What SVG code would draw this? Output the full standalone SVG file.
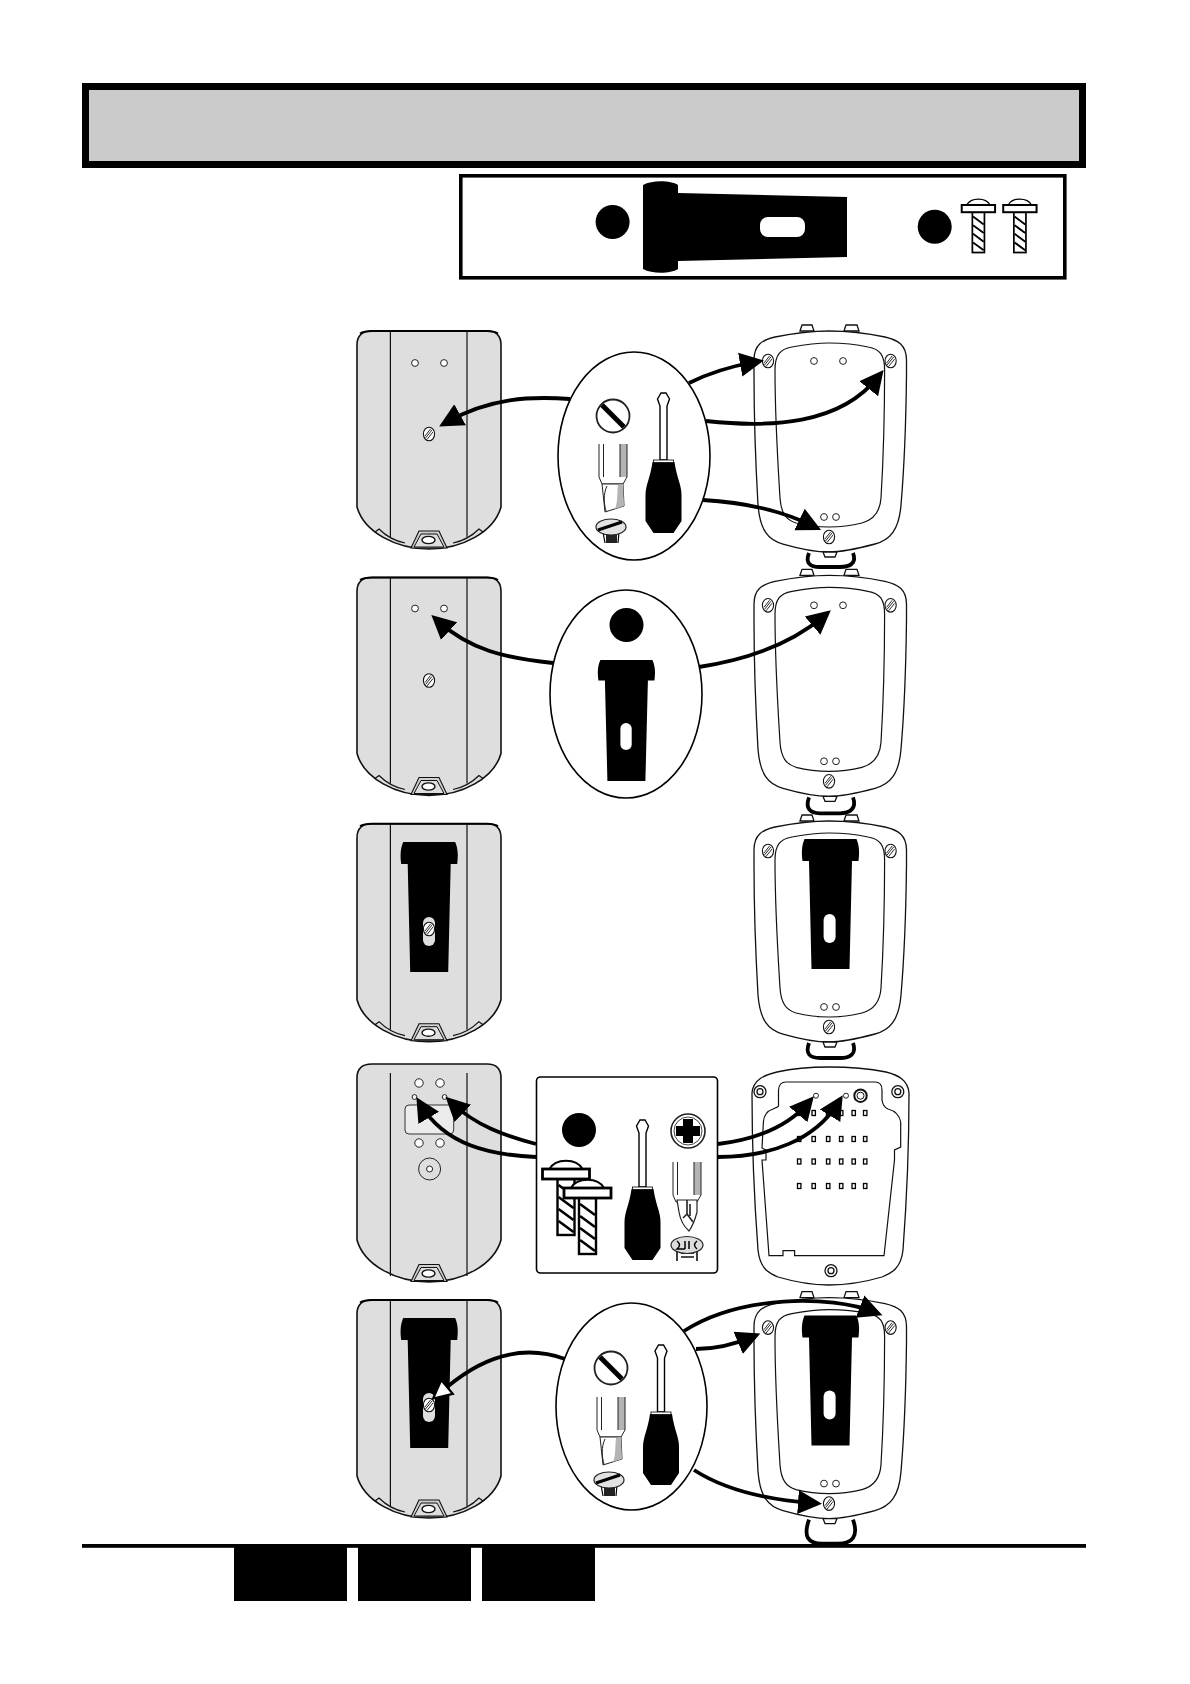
<svg xmlns="http://www.w3.org/2000/svg" xmlns:xlink="http://www.w3.org/1999/xlink" width="1190" height="1684" viewBox="0 0 1190 1684">
<style>
.body{fill:#dedede;stroke:#111;stroke-width:1.6}
.ln{fill:none;stroke:#111;stroke-width:1.2}
.wl{fill:#fff;stroke:#111;stroke-width:1.3}
.hole{fill:#fff;stroke:#222;stroke-width:1}
.bg{fill:#cfcfcf;stroke:#111;stroke-width:1.1}
.k{fill:#000}
.cn{fill:none;stroke:#000;stroke-width:3.8;stroke-linecap:butt}
.lens{fill:#fff;stroke:#000;stroke-width:1.6}
.gr{fill:#b4b4b4}
.loop{fill:none;stroke:#000;stroke-width:3.8}
</style>
<defs>
<marker id="ah" markerUnits="userSpaceOnUse" markerWidth="28" markerHeight="28" viewBox="0 0 28 28" refX="15" refY="14" orient="auto"><path d="M0,2 L24,14 L0,26 Z" fill="#000"/></marker>
<marker id="ahw" markerUnits="userSpaceOnUse" markerWidth="26" markerHeight="26" viewBox="0 0 26 26" refX="5" refY="13" orient="auto"><path d="M5,4 L23,13 L5,22 Z" fill="#fff" stroke="#000" stroke-width="2.2"/></marker>
<g id="screw"><ellipse rx="5.6" ry="6.8" fill="#fff" stroke="#111" stroke-width="1.1"/><path d="M-4,2 L1.5,-5 M-3.5,4 L3,-4 M-2,5.5 L4,-2" stroke="#111" stroke-width="0.9" fill="none"/></g>
<g id="panelL">
<path class="body" d="M357,345 C357,335 363,331 372,331 L487,331 C496,331 501,335 501,345 L501,507 C494,532 462,549 429,549 C396,549 364,532 357,507 Z"/>
<path d="M360,333.5 Q364,331 372,331 L487,331 Q494,331 498,333.5" fill="none" stroke="#000" stroke-width="2"/>
<path class="ln" d="M390.4,331 L390.4,537 M467,331 L467,537"/>
<path class="ln" d="M375,532 L379,529 Q390,540 405,543 M453,543 Q468,540 479,529 L483,532" stroke-width="1"/>
</g>
<g id="latch">
<path class="bg" d="M411,548 L419,531 L439,531 L447,548 Z"/>
<path d="M414,547 L421,534 L437,534 L444,547 Z" fill="#dedede" stroke="#111" stroke-width="1"/>
<ellipse cx="428.5" cy="540" rx="6.5" ry="3.6" fill="#fff" stroke="#111" stroke-width="1.4"/>
</g>
<g id="panelR">
<path class="wl" d="M800,331 L802,325 L812,325 L814,331 Z M844,331 L846,325 L857,325 L859,331 Z"/>
<path class="wl" d="M754,360 C754,345 762,340 775,337 C795,333 812,331 829,331 C846,331 866,333 885,337 C898,340 906.5,345 906.5,360 L906.5,375 C906,420 904,470 901,505 C899,530 890,540 875,544 C860,548 845,552 829,552 C813,552 797,548 783,544 C768,540 760,530 758,505 C756,470 754,420 754,375 Z"/>
<path class="ln" d="M775,370 C775,355 780,349 792,347 C808,344 818,343 829,343 C842,343 855,344 868,347 C880,349 884.6,355 884.6,370 C884.6,420 883,465 881,498 C880,513 873,520 862,523 C850,526 840,527 829,527 C818,527 808,526 796,523 C786,520 781,513 780,498 C778,465 775,420 775,370 Z"/>
</g>
<g id="driver">
<path d="M-2.5,0 L2.5,0 L6,6 L3.5,13 L3.5,67 L-3.5,67 L-3.5,13 L-6,6 Z" fill="#fff" stroke="#000" stroke-width="1.4"/>
<path class="k" d="M-11,69 L11,69 C13,84 18,92 18,102 L18,128 L10,140 L-10,140 L-18,128 L-18,102 C-18,92 -13,84 -11,69 Z"/>
<rect x="-10" y="67" width="20" height="2.6" fill="#fff" stroke="#000" stroke-width="0.8"/>
</g>
<g id="hex">
<rect x="21" y="0" width="7" height="33" class="gr"/>
<path d="M0,0 L0,33 M4.5,0 L4.5,33 M21,0 L21,33 M28,0 L28,33" stroke="#222" stroke-width="1" fill="none"/>
<path d="M0,33 L3,40 L24,40 L28,33" fill="#fff" stroke="#222" stroke-width="1"/>
</g>
<g id="bitF">
<use href="#hex"/>
<path d="M3,40 L24,40 L25,62 L6,68 Z" fill="#fff" stroke="#222" stroke-width="1"/>
<path d="M19,41 L24,40 L25,62 L16,65 C19,58 18,48 19,41 Z" class="gr"/>
<path d="M8,42 C4,50 5,60 7,67" fill="none" stroke="#222" stroke-width="1"/>
</g>
<g id="slotHead">
<circle r="16.5" fill="#fff" stroke="#222" stroke-width="1.8"/>
<path d="M-11,-11 L11,11" stroke="#000" stroke-width="5"/>
</g>
<g id="cskF">
<path d="M10,14 L10,24 L21,24 L21,14 Z" fill="#222"/>
<path d="M7,13 L9,24 M23,13 L22,24" stroke="#000" stroke-width="1.2"/>
<ellipse cx="15" cy="8" rx="15" ry="8" fill="#e2e2e2" stroke="#222" stroke-width="1.2"/>
<path d="M2,11 L26,3" stroke="#000" stroke-width="3"/>
</g>
<g id="bracket">
<path class="k" d="M-26,0 L26,0 C29,7 29,14 28,22 L21.5,22 L19,130 L-19,130 L-21.5,22 L-28,22 C-29,14 -29,7 -26,0 Z"/>
</g>
<g id="bigScrew">
<path d="M8,0 C14,-11 35,-11 41,0" fill="#fff" stroke="#000" stroke-width="1.8"/>
<rect x="16" y="10" width="17" height="56" fill="#fff" stroke="#000" stroke-width="2.4"/>
<path d="M17,16 L32,27 M17,28 L32,39 M17,40 L32,51 M17,52 L32,63" stroke="#000" stroke-width="2.6"/>
<rect x="1" y="0" width="47" height="10" fill="#fff" stroke="#000" stroke-width="2.8"/>
</g>
<g id="cell"><rect width="3.4" height="5" fill="#fff" stroke="#000" stroke-width="1.3"/></g>
</defs>

<g id="header"><rect x="85.5" y="86.5" width="997" height="78" fill="#cbcbcb" stroke="#000" stroke-width="7"/></g>

<g id="partsBox">
<rect x="460.8" y="175.8" width="604" height="102" fill="#fff" stroke="#000" stroke-width="3.6"/>
<ellipse cx="612.6" cy="222" rx="17" ry="17" class="k"/>
<path class="k" d="M643,185 C652,180 670,180 678,185 L678,193 L847,197 L847,257 L678,261 L678,269 C670,274 652,274 643,269 Z"/>
<rect x="760" y="217" width="45" height="20" rx="8" fill="#fff"/>
<ellipse cx="934.7" cy="226.7" rx="17" ry="17" class="k"/>
<use href="#bigScrew" transform="translate(961,205) scale(0.71,0.72)"/>
<use href="#bigScrew" transform="translate(1002.5,205) scale(0.71,0.72)"/>
</g>

<g id="row1left"><use href="#panelL"/><use href="#latch"/><use href="#screw" x="429" y="434"/>
<circle class="hole" cx="415" cy="363" r="3.4"/><circle class="hole" cx="444" cy="363" r="3.4"/></g>
<g id="row1right"><use href="#panelR"/><use href="#screw" x="768" y="361"/><use href="#screw" x="890.6" y="361"/><use href="#screw" x="829" y="537"/>
<circle class="hole" cx="814" cy="361" r="3.4"/><circle class="hole" cx="843" cy="361" r="3.4"/><circle class="hole" cx="824" cy="517" r="3.4"/><circle class="hole" cx="836" cy="517" r="3.4"/>
<path class="loop" d="M809,553 C805,563 810,567 820,567 L840,567 C850,567 857,563 853,553"/>
<path class="wl" d="M823,552 L825,557 L835,557 L837,552 Z"/></g>

<g id="row1tools">
<ellipse class="lens" cx="634" cy="456" rx="76" ry="104"/>
<use href="#slotHead" x="613" y="416"/>
<use href="#bitF" x="599" y="444"/>
<use href="#cskF" x="596" y="519"/>
<use href="#driver" x="663.5" y="393"/>
</g>

<g id="row2left" transform="translate(0,246.5)"><use href="#panelL"/><use href="#latch"/><use href="#screw" x="429" y="434"/>
<circle class="hole" cx="415" cy="362" r="3.4"/><circle class="hole" cx="444" cy="362" r="3.4"/></g>
<g id="row2right" transform="translate(0,244.3)"><use href="#panelR"/><use href="#screw" x="768" y="361"/><use href="#screw" x="890.6" y="361"/><use href="#screw" x="829" y="537"/>
<circle class="hole" cx="814" cy="361" r="3.4"/><circle class="hole" cx="843" cy="361" r="3.4"/><circle class="hole" cx="824" cy="517" r="3.4"/><circle class="hole" cx="836" cy="517" r="3.4"/>
<path class="loop" d="M809,553 C805,564 810,569 820,569 L840,569 C850,569 857,564 853,553"/>
<path class="wl" d="M823,552 L825,557 L835,557 L837,552 Z"/></g>
<g id="row2bracket">
<ellipse class="lens" cx="626" cy="694" rx="76" ry="104"/>
<ellipse cx="626.5" cy="625" rx="17" ry="17" class="k"/>
<use href="#bracket" transform="translate(626.4,660) scale(1,0.931)"/>
<rect x="620.4" y="723" width="11.3" height="27" rx="5.6" fill="#fff"/>
</g>

<g id="row3left" transform="translate(0,492.7)"><use href="#panelL"/><use href="#latch"/></g>
<g id="row3leftBracket"><use href="#bracket" x="429.2" y="842"/><rect x="423" y="917" width="12" height="29" rx="6" fill="#dedede"/><use href="#screw" x="429" y="929"/></g>
<g id="row3right" transform="translate(0,490)"><use href="#panelR"/><use href="#screw" x="768" y="361"/><use href="#screw" x="890.6" y="361"/><use href="#screw" x="829" y="537"/>
<circle class="hole" cx="824" cy="517" r="3.4"/><circle class="hole" cx="836" cy="517" r="3.4"/>
<path class="loop" d="M809,553 C805,564 810,568 820,568 L840,568 C850,568 857,564 853,553"/>
<path class="wl" d="M823,552 L825,557 L835,557 L837,552 Z"/></g>
<g id="row3rightBracket"><use href="#bracket" x="830.5" y="839"/><rect x="823.6" y="914" width="12" height="29" rx="6" fill="#fff"/></g>

<g id="row4left">
<path class="body" d="M357,1078 C357,1068 363,1064 372,1064 L487,1064 C496,1064 501,1068 501,1078 L501,1240 C494,1265 462,1282 429,1282 C396,1282 364,1265 357,1240 Z"/>
<path class="ln" d="M390.4,1073 L390.4,1276 M467,1073 L467,1276"/>
<use href="#latch" y="733.5"/>
<rect x="405" y="1105" width="48.7" height="29" rx="4" fill="#ececec" stroke="#333" stroke-width="1"/>
<circle class="hole" cx="419" cy="1083" r="4.2"/><circle class="hole" cx="440" cy="1083" r="4.2"/>
<circle class="hole" cx="414.5" cy="1097" r="2.4"/><circle class="hole" cx="444.6" cy="1097" r="2.4"/>
<circle class="hole" cx="419" cy="1143" r="4.2"/><circle class="hole" cx="440" cy="1143" r="4.2"/>
<circle cx="429.6" cy="1169" r="11" fill="none" stroke="#222" stroke-width="1"/><circle class="hole" cx="429.6" cy="1169" r="3"/>
</g>

<g id="row4box">
<rect x="536.5" y="1077" width="181" height="196" rx="4" fill="#fff" stroke="#000" stroke-width="1.6"/>
<ellipse cx="579" cy="1130" rx="17" ry="17" class="k"/>
<use href="#bigScrew" x="541.5" y="1169"/>
<use href="#bigScrew" x="563" y="1188"/>
<use href="#driver" x="642.5" y="1120"/>
<circle cx="688" cy="1131" r="17" fill="#fff" stroke="#222" stroke-width="1.6"/>
<circle cx="688" cy="1131" r="14" fill="none" stroke="#444" stroke-width="1"/>
<path class="k" d="M683,1119 L693,1119 L693,1126 L700,1126 L700,1136 L693,1136 L693,1143 L683,1143 L683,1136 L676,1136 L676,1126 L683,1126 Z"/>
<use href="#hex" x="673" y="1162"/>
<path d="M677,1200 L697,1200 L697,1212 Q694,1224 689,1231 Q681,1224 679,1212 Z" fill="#fff" stroke="#222" stroke-width="1.2"/>
<path d="M687,1200 L687,1214 L683,1218 M687,1214 L693,1222 M690,1204 L690,1216" fill="none" stroke="#222" stroke-width="1.6"/>
<path d="M677,1250 L677,1261 M697,1250 L697,1261 M681,1253 L694,1253 M681,1257 L694,1257" stroke="#111" stroke-width="1.6"/>
<ellipse cx="687" cy="1245" rx="16" ry="8.5" fill="#ddd" stroke="#222" stroke-width="1.2"/>
<path d="M677,1241 Q682,1245 677,1249 L685,1249 M697,1241 Q692,1245 697,1249 M685,1241 L685,1249 M689,1241 L689,1249" fill="none" stroke="#000" stroke-width="1.5"/>
</g>

<g id="row4right">
<path class="wl" d="M752,1093 C753,1080 764,1075 777,1072 C795,1068 812,1067 829,1067 C846,1067 866,1068 886,1072 C898,1075 908,1080 909,1093 C909,1150 906,1210 903,1250 C901,1268 892,1273 882,1277 C865,1282 845,1285 829,1285 C813,1285 795,1282 778,1277 C768,1273 760,1268 758,1250 C755,1210 752,1150 752,1093 Z"/>
<path class="ln" d="M778.5,1106 L778.5,1090 Q779,1082 786,1082 L875,1082 Q882,1082 882,1090 L882,1100 Q883,1107 888,1109 Q899,1112 900.7,1122 L900.7,1147 L894.5,1150 L894.5,1160 L884,1255.7 L794.6,1255.7 L794.6,1250.7 L783,1250.7 L783,1255.7 L769,1255.7 L762,1160 L766,1160 L766,1150 L762,1148 L763.4,1122 Q764,1112 773,1109 Q778,1107 778.5,1106 Z"/>
<circle cx="760" cy="1091.7" r="6" class="wl"/><circle cx="760" cy="1091.7" r="3" class="wl"/>
<circle cx="897.8" cy="1091.7" r="6" class="wl"/><circle cx="897.8" cy="1091.7" r="3" class="wl"/>
<circle cx="831" cy="1270.7" r="6" class="wl"/><circle cx="831" cy="1270.7" r="3" class="wl"/>
<circle cx="860.5" cy="1095.7" r="6.2" fill="#fff" stroke="#111" stroke-width="2"/><circle cx="860.5" cy="1095.7" r="3.5" fill="#fff" stroke="#111" stroke-width="1"/>
<circle class="hole" cx="816" cy="1095.7" r="2.5"/><circle class="hole" cx="846" cy="1095.7" r="2.5"/>
<use href="#cell" x="797.5" y="1110.5"/><use href="#cell" x="812" y="1110.5"/><use href="#cell" x="826.5" y="1110.5"/><use href="#cell" x="839.5" y="1110.5"/><use href="#cell" x="852" y="1110.5"/><use href="#cell" x="863.5" y="1110.5"/>
<use href="#cell" x="797.5" y="1136.5"/><use href="#cell" x="812" y="1136.5"/><use href="#cell" x="826.5" y="1136.5"/><use href="#cell" x="839.5" y="1136.5"/><use href="#cell" x="852" y="1136.5"/><use href="#cell" x="863.5" y="1136.5"/>
<use href="#cell" x="797.5" y="1159"/><use href="#cell" x="812" y="1159"/><use href="#cell" x="826.5" y="1159"/><use href="#cell" x="839.5" y="1159"/><use href="#cell" x="852" y="1159"/><use href="#cell" x="863.5" y="1159"/>
<use href="#cell" x="797.5" y="1183.5"/><use href="#cell" x="812" y="1183.5"/><use href="#cell" x="826.5" y="1183.5"/><use href="#cell" x="839.5" y="1183.5"/><use href="#cell" x="852" y="1183.5"/><use href="#cell" x="863.5" y="1183.5"/>
</g>

<g id="row5left" transform="translate(0,969)"><use href="#panelL"/><use href="#latch"/></g>
<g id="row5leftBracket"><use href="#bracket" x="429.2" y="1318"/><rect x="423" y="1393" width="12" height="29" rx="6" fill="#dedede"/><use href="#screw" x="429" y="1405"/></g>
<g id="row5right" transform="translate(0,966.6)"><use href="#panelR"/><use href="#screw" x="768" y="361"/><use href="#screw" x="890.6" y="361"/><use href="#screw" x="829" y="537"/>
<circle class="hole" cx="824" cy="517" r="3.4"/><circle class="hole" cx="836" cy="517" r="3.4"/>
<path class="loop" d="M809,553 C803,570 808,577 822,577 L838,577 C852,577 859,570 853,553"/>
<path class="wl" d="M823,552 L825,557 L835,557 L837,552 Z"/></g>
<g id="row5rightBracket"><use href="#bracket" x="830.5" y="1315.5"/><rect x="823.6" y="1390.5" width="12" height="29" rx="6" fill="#fff"/></g>
<g id="row5tools">
<ellipse class="lens" cx="631.5" cy="1406.5" rx="75.5" ry="103.5"/>
<use href="#slotHead" x="611" y="1368"/>
<use href="#bitF" x="597" y="1397"/>
<use href="#cskF" x="594" y="1472"/>
<use href="#driver" x="661" y="1345"/>
</g>

<g id="connectors">
<path class="cn" marker-end="url(#ah)" d="M570,399 C530,396 490,398 447,422"/>
<path class="cn" marker-end="url(#ah)" d="M689,383 C707,374 727,367 755,362"/>
<path class="cn" marker-end="url(#ah)" d="M706,421 C770,428 840,425 878,377"/>
<path class="cn" marker-end="url(#ah)" d="M703,500 C740,502 780,510 813,526"/>
<path class="cn" marker-end="url(#ah)" d="M553,663 C505,658 470,650 438,621"/>
<path class="cn" marker-end="url(#ah)" d="M699,667 C745,660 790,645 824,616"/>
<path class="cn" marker-end="url(#ah)" d="M536,1144 C505,1136 475,1125 452,1103"/>
<path class="cn" marker-end="url(#ah)" d="M536,1157 C490,1155 445,1145 421,1105"/>
<path class="cn" marker-end="url(#ah)" d="M718,1144 C750,1140 785,1130 808,1103"/>
<path class="cn" marker-end="url(#ah)" d="M718,1157 C770,1157 815,1140 838,1103"/>
<path class="cn" marker-end="url(#ahw)" d="M565,1359 C535,1348 495,1347 447,1387"/>
<path class="cn" marker-end="url(#ah)" d="M684,1331 C740,1295 830,1295 874,1312"/>
<path class="cn" marker-end="url(#ah)" d="M696,1349 C715,1349 733,1345 752,1337"/>
<path class="cn" marker-end="url(#ah)" d="M694,1470 C725,1490 770,1500 813,1503"/>
</g>

<g id="footer">
<rect x="82" y="1544" width="1004" height="3.8" class="k"/>
<rect x="234" y="1544" width="113" height="57" class="k"/>
<rect x="358" y="1544" width="113" height="57" class="k"/>
<rect x="482" y="1544" width="113" height="57" class="k"/>
</g>
</svg>
